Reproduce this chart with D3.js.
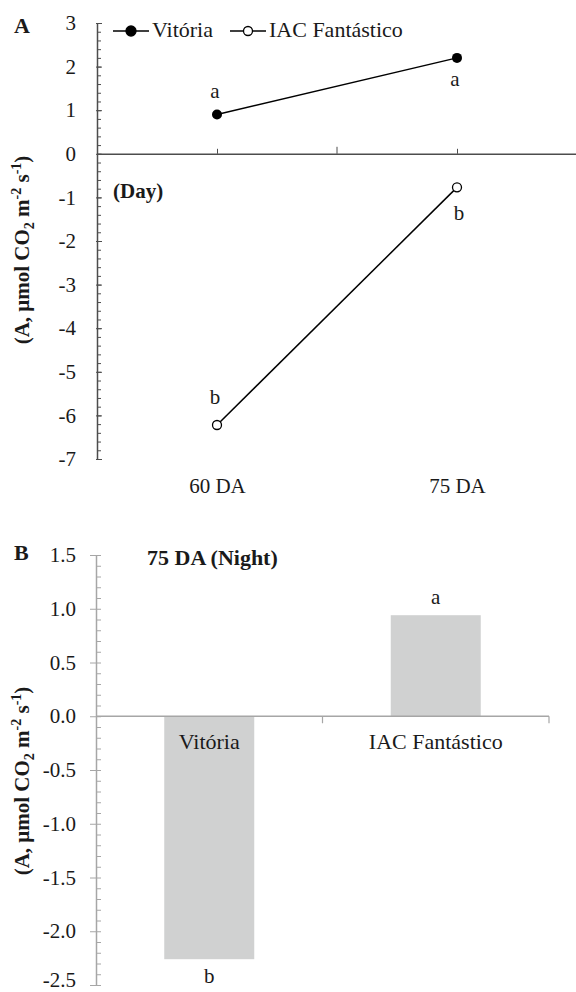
<!DOCTYPE html>
<meta charset="utf-8" />
<body style="margin:0;background:#fff">
<div id="chart"></div>
<script src="https://d3js.org/d3.v7.min.js"></script>
<script>
  // ---- data (panel A: day, panel B: night) ----
  var dayCategories = ["60 DA", "75 DA"];
  var vitoriaDay = [0.9, 2.2];
  var iacDay = [-6.22, -0.77];
  var vitoriaDayLetters = ["a", "a"];
  var iacDayLetters = ["b", "b"];
  var dayTicks = [3, 2, 1, 0, -1, -2, -3, -4, -5, -6, -7];

  var nightCultivars = ["Vitória", "IAC Fantástico"];
  var nightValues = [-2.26, 0.94];
  var nightLetters = ["b", "a"];
  var nightTicks = [1.5, 1.0, 0.5, 0.0, -0.5, -1.0, -1.5, -2.0, -2.5];

  var seriesNames = ["Vitória", "IAC Fantástico"];

  var svg = d3.select("#chart").append("svg")
    .attr("width", 576).attr("height", 992);

  // ================= panel A =================
  var axisA = "#4d4d4d";
  var yA = d3.scaleLinear().domain([-7, 3]).range([459, 23]);
  var xA = d3.scalePoint().domain(dayCategories).range([97, 577]).padding(0.5);
  var xAband = d3.scaleBand().domain(dayCategories).range([97, 577]);

  var gA = svg.append("g");

  // minor ticks (0.2 steps), inside
  gA.append("g")
    .attr("transform", "translate(97,0)")
    .call(d3.axisRight(yA).tickValues(d3.range(-7, 3.001, 0.2)).tickSize(4).tickFormat(""))
    .call(g => g.select(".domain").remove())
    .call(g => g.selectAll("line").attr("stroke", axisA));

  // major ticks + labels
  gA.append("g")
    .attr("transform", "translate(97,0)")
    .call(d3.axisLeft(yA).tickValues(dayTicks).tickSizeInner(1).tickSizeOuter(0).tickPadding(20).tickFormat(d3.format("d")))
    .call(g => g.select(".domain").attr("stroke", axisA).attr("stroke-width", 1.5))
    .call(g => g.selectAll("line").attr("stroke", axisA))
    .call(g => g.selectAll("text").attr("font-size", 21)
      .text(d => d < 0 ? "-" + Math.abs(d) : d));
  gA.append("g")
    .attr("transform", "translate(97,0)")
    .call(d3.axisRight(yA).tickValues(dayTicks).tickSize(5).tickFormat(""))
    .call(g => g.select(".domain").remove())
    .call(g => g.selectAll("line").attr("stroke", axisA));

  // zero line with upward ticks
  gA.append("g")
    .attr("transform", "translate(0," + yA(0) + ")")
    .call(d3.axisTop(xA).tickSize(5).tickSizeOuter(0).tickFormat(""))
    .call(g => g.select(".domain").attr("stroke", axisA).attr("stroke-width", 1.5))
    .call(g => g.selectAll("line").attr("stroke", axisA));
  gA.selectAll(".divA").data(dayCategories.slice(1)).join("line")
    .attr("x1", d => xAband(d)).attr("x2", d => xAband(d))
    .attr("y1", yA(0)).attr("y2", yA(0) - 7)
    .attr("stroke", axisA);

  // category labels
  gA.append("g")
    .attr("transform", "translate(0," + yA(-7) + ")")
    .call(d3.axisBottom(xA).tickSize(0).tickPadding(19))
    .call(g => g.select(".domain").remove())
    .call(g => g.selectAll("text").attr("font-size", 21));

  var lineA = d3.line().x((d, i) => xA(dayCategories[i])).y(d => yA(d));
  gA.append("path").datum(vitoriaDay).attr("d", lineA)
    .attr("fill", "none").attr("stroke", "#000").attr("stroke-width", 1.5);
  gA.append("path").datum(iacDay).attr("d", lineA)
    .attr("fill", "none").attr("stroke", "#000").attr("stroke-width", 1.5);

  gA.selectAll(".vit").data(vitoriaDay).join("circle")
    .attr("cx", (d, i) => xA(dayCategories[i])).attr("cy", d => yA(d))
    .attr("r", 5).attr("fill", "#000");
  gA.selectAll(".iac").data(iacDay).join("circle")
    .attr("cx", (d, i) => xA(dayCategories[i])).attr("cy", d => yA(d))
    .attr("r", 4.5).attr("fill", "#fff").attr("stroke", "#000").attr("stroke-width", 1.3);

  // significance letters: above at 60 DA, below at 75 DA
  gA.selectAll(".lv").data(vitoriaDay).join("text")
    .attr("x", (d, i) => xA(dayCategories[i]) - 2)
    .attr("y", (d, i) => i === 0 ? yA(d) - 17 : yA(d) + 28)
    .attr("text-anchor", "middle").attr("font-size", 21)
    .text((d, i) => vitoriaDayLetters[i]);
  gA.selectAll(".li").data(iacDay).join("text")
    .attr("x", (d, i) => xA(dayCategories[i]) - 2 + i * 4)
    .attr("y", (d, i) => i === 0 ? yA(d) - 21 : yA(d) + 33)
    .attr("text-anchor", "middle").attr("font-size", 21)
    .text((d, i) => iacDayLetters[i]);

  // legend
  var legend = gA.append("g");
  var legX = [113, 230];
  seriesNames.forEach(function (name, i) {
    var x0 = legX[i];
    legend.append("line").attr("x1", x0).attr("x2", x0 + 36).attr("y1", 31).attr("y2", 31)
      .attr("stroke", "#000").attr("stroke-width", 1.5);
    legend.append("circle").attr("cx", x0 + 18).attr("cy", 31)
      .attr("r", i === 0 ? 5 : 4.5)
      .attr("fill", i === 0 ? "#000" : "#fff").attr("stroke", "#000").attr("stroke-width", 1.3);
    legend.append("text").attr("x", x0 + 39).attr("y", 37).attr("font-size", 22).text(name);
  });

  gA.append("text").attr("x", 14).attr("y", 33).attr("font-size", 22)
    .attr("font-weight", "bold").text("A");
  gA.append("text").attr("x", 113).attr("y", 198).attr("font-size", 21)
    .attr("font-weight", "bold").text("(Day)");

  function yTitle(g, cx, cy) {
    var t = g.append("text")
      .attr("transform", "translate(" + cx + "," + cy + ") rotate(-90)")
      .attr("text-anchor", "middle").attr("font-size", 21).attr("font-weight", "bold");
    t.append("tspan").text("(A, μmol CO");
    t.append("tspan").attr("font-size", 14).attr("dy", 5).text("2");
    t.append("tspan").attr("dy", -5).text(" m");
    t.append("tspan").attr("font-size", 14).attr("dy", -8).text("-2");
    t.append("tspan").attr("dy", 8).text(" s");
    t.append("tspan").attr("font-size", 14).attr("dy", -8).text("-1");
    t.append("tspan").attr("dy", 8).text(")");
  }
  yTitle(gA, 29, 250);

  // ================= panel B =================
  var axisB = "#a6a6a6";
  var yB = d3.scaleLinear().domain([-2.5, 1.5]).range([985, 555]);
  var xB = d3.scaleBand().domain(nightCultivars).range([96, 549]);
  var barW = 90;

  var gB = svg.append("g");

  gB.selectAll("rect").data(nightValues).join("rect")
    .attr("x", (d, i) => xB(nightCultivars[i]) + xB.bandwidth() / 2 - barW / 2)
    .attr("width", barW)
    .attr("y", d => yB(Math.max(0, d)))
    .attr("height", d => Math.abs(yB(d) - yB(0)))
    .attr("fill", "#d0d1d1");

  gB.append("g")
    .attr("transform", "translate(96,0)")
    .call(d3.axisRight(yB).tickValues(d3.range(-2.5, 1.501, 0.1)).tickSize(5).tickFormat(""))
    .call(g => g.select(".domain").remove())
    .call(g => g.selectAll("line").attr("stroke", axisB));
  gB.append("g")
    .attr("transform", "translate(96,0)")
    .call(d3.axisLeft(yB).tickValues(nightTicks).tickSizeInner(6).tickSizeOuter(0).tickPadding(14)
      .tickFormat(d => (d < 0 ? "-" : "") + Math.abs(d).toFixed(1)))
    .call(g => g.select(".domain").attr("stroke", axisB).attr("stroke-width", 1.5))
    .call(g => g.selectAll("line").attr("stroke", axisB))
    .call(g => g.selectAll("text").attr("font-size", 21)
      .attr("dy", d => d === -2.5 ? "0.08em" : "0.32em"));

  // zero line
  gB.append("line").attr("x1", 96).attr("x2", 549).attr("y1", yB(0)).attr("y2", yB(0))
    .attr("stroke", axisB).attr("stroke-width", 1.5);
  gB.selectAll(".divB").data(nightCultivars).join("line")
    .attr("x1", d => xB(d) + xB.bandwidth()).attr("x2", d => xB(d) + xB.bandwidth())
    .attr("y1", yB(0)).attr("y2", yB(0) + 7)
    .attr("stroke", axisB).attr("stroke-width", 1.2);

  gB.selectAll(".catB").data(nightCultivars).join("text")
    .attr("x", d => xB(d) + xB.bandwidth() / 2).attr("y", 749)
    .attr("text-anchor", "middle").attr("font-size", 22).text(d => d);

  gB.selectAll(".letB").data(nightValues).join("text")
    .attr("x", (d, i) => xB(nightCultivars[i]) + xB.bandwidth() / 2)
    .attr("y", d => d > 0 ? yB(d) - 11 : yB(d) + 24)
    .attr("text-anchor", "middle").attr("font-size", 21)
    .text((d, i) => nightLetters[i]);

  gB.append("text").attr("x", 14).attr("y", 560).attr("font-size", 22)
    .attr("font-weight", "bold").text("B");
  gB.append("text").attr("x", 147).attr("y", 565).attr("font-size", 22)
    .attr("font-weight", "bold").text("75 DA (Night)");

  yTitle(gB, 29, 781);

  // serif face and text colour everywhere (inline style beats the axis attributes)
  svg.selectAll("text")
    .style("font-family", "'Liberation Serif'")
    .style("fill", "#1a1a1a");
</script>
</body>
